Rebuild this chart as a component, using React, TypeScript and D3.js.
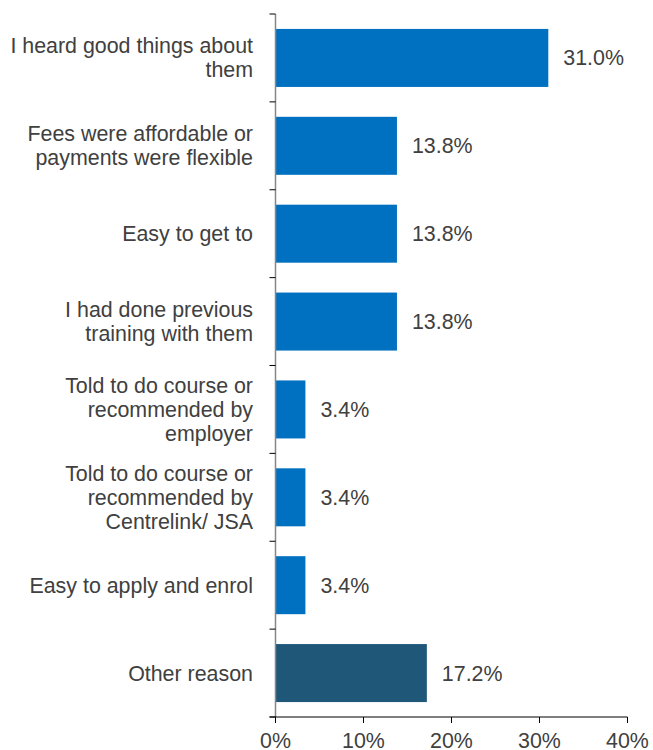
import React, { useEffect, useRef } from "react";
import * as d3 from "d3";

const categories: string[][] = [
  ["I heard good things about", "them"],
  ["Fees were affordable or", "payments were flexible"],
  ["Easy to get to"],
  ["I had done previous", "training with them"],
  ["Told to do course or", "recommended by", "employer"],
  ["Told to do course or", "recommended by", "Centrelink/ JSA"],
  ["Easy to apply and enrol"],
  ["Other reason"],
];
const values: number[] = [31.0, 13.8, 13.8, 13.8, 3.4, 3.4, 3.4, 17.2];
const barColors: string[] = ["#0070C0", "#0070C0", "#0070C0", "#0070C0", "#0070C0", "#0070C0", "#0070C0", "#1F5779"];
const xTicks: number[] = [0, 10, 20, 30, 40];

const W = 653;
const H = 750;
const left = 275.5;
const right = 627.5;
const top = 14;
const bottom = 717;
const FONT = "'Liberation Sans', Arial, sans-serif";
const TEXT = "#404040";
const FS = 21.4;

export default function App() {
  const ref = useRef<SVGSVGElement>(null);
  useEffect(() => {
    const svg = d3.select(ref.current);
    svg.selectAll("*").remove();
    const ids = categories.map((_, i) => String(i));
    const y = d3.scaleBand<string>().domain(ids).range([top, bottom]).paddingInner(0.34).paddingOuter(0.17);
    const x = d3.scaleLinear().domain([0, 40]).range([left, right]);

    // bars
    svg.append("g").selectAll("rect").data(values).join("rect")
      .attr("x", x(0))
      .attr("y", (_, i) => y(ids[i])!)
      .attr("width", (d) => x(d) - x(0))
      .attr("height", y.bandwidth())
      .attr("fill", (_, i) => barColors[i]);

    // value labels
    svg.append("g").selectAll("text").data(values).join("text")
      .attr("x", (d) => x(d) + 15)
      .attr("y", (_, i) => y(ids[i])! + y.bandwidth() / 2)
      .attr("dy", "0.35em")
      .attr("font-family", FONT)
      .attr("font-size", FS)
      .attr("fill", TEXT)
      .text((d) => d.toFixed(1) + "%");

    // y axis line and ticks
    const step = (bottom - top) / categories.length;
    const yAxis = svg.append("g");
    yAxis.append("line").attr("x1", left).attr("x2", left).attr("y1", top).attr("y2", bottom)
      .attr("stroke", "#868686").attr("stroke-width", 1.5);
    yAxis.selectAll("line.tk").data(d3.range(categories.length + 1)).join("line")
      .attr("class", "tk")
      .attr("x1", left - 6).attr("x2", left)
      .attr("y1", (i) => top + i * step).attr("y2", (i) => top + i * step)
      .attr("stroke", "#000").attr("stroke-width", 1);

    // category labels
    const lh = 24;
    const lab = svg.append("g");
    categories.forEach((lines, i) => {
      const cy = y(ids[i])! + y.bandwidth() / 2;
      const t = lab.append("text")
        .attr("text-anchor", "end")
        .attr("font-family", FONT)
        .attr("font-size", FS)
        .attr("fill", TEXT);
      lines.forEach((ln, j) => {
        t.append("tspan")
          .attr("x", 253)
          .attr("y", cy + (j - (lines.length - 1) / 2) * lh)
          .attr("dy", "0.35em")
          .text(ln);
      });
    });

    // x axis
    const xg = svg.append("g").attr("transform", `translate(0,${bottom})`);
    xg.append("line").attr("x1", left - 6).attr("x2", right).attr("y1", 0).attr("y2", 0)
      .attr("stroke", "#000").attr("stroke-width", 1.2);
    xg.selectAll("line.tk").data(xTicks).join("line")
      .attr("class", "tk")
      .attr("x1", (d) => x(d)).attr("x2", (d) => x(d))
      .attr("y1", 0).attr("y2", 6)
      .attr("stroke", "#000");
    xg.selectAll("text").data(xTicks).join("text")
      .attr("x", (d) => x(d))
      .attr("y", 30.5)
      .attr("text-anchor", "middle")
      .attr("font-family", FONT)
      .attr("font-size", FS)
      .attr("fill", TEXT)
      .text((d) => d + "%");
  }, []);
  return (
    <svg ref={ref} width={W} height={H} style={{ position: "absolute", left: 0, top: 0, background: "#fff" }} />
  );
}
